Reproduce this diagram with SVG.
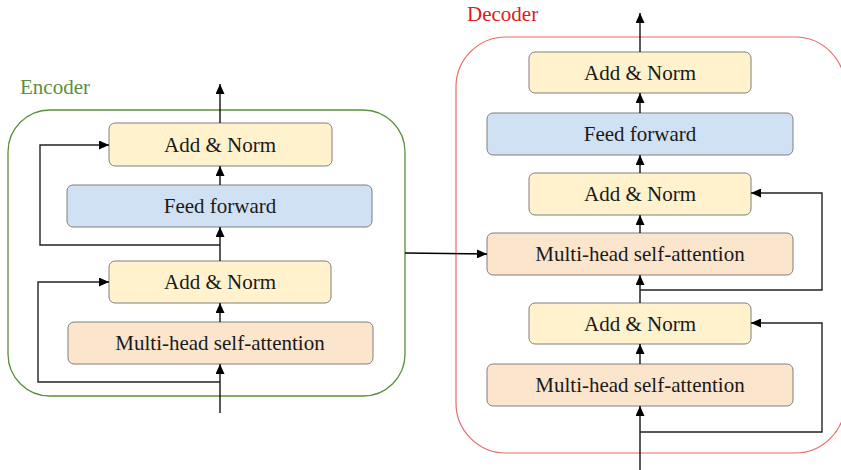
<svg xmlns="http://www.w3.org/2000/svg" width="841" height="470" viewBox="0 0 841 470">
<style>
  .lbl { font-family: "Liberation Serif", "Times New Roman", serif; font-size: 21px; fill: #1a1a1a; text-anchor: middle; }
  .norm { fill: #fff2cc; stroke: #7f7f7f; stroke-width: 1; }
  .ff { fill: #cfe1f3; stroke: #7f7f7f; stroke-width: 1; }
  .mha { fill: #fce5cd; stroke: #7f7f7f; stroke-width: 1; }
  .conn { fill: none; stroke: #000; stroke-width: 1.3; marker-end: url(#arr); }
  .skip { fill: none; stroke: #222; stroke-width: 1.4; marker-end: url(#arr); }
</style>
<defs>
  <marker id="arr" markerUnits="userSpaceOnUse" markerWidth="11" markerHeight="9" refX="10" refY="4.5" orient="auto">
    <path d="M0,0 L10,4.5 L0,9 z" fill="#000"/>
  </marker>
</defs>
<rect width="841" height="470" fill="#fff"/>

<g id="encoder-frame">
  <rect x="8" y="110" width="397" height="286" rx="42" ry="42" fill="none" stroke="#5b8f3a" stroke-width="1.3"/>
  <text x="20" y="94" font-family="Liberation Serif, serif" font-size="21" fill="#5b8f3a">Encoder</text>
</g>
<g id="decoder-frame">
  <rect x="456" y="37" width="389" height="416" rx="50" ry="50" fill="none" stroke="#ea6b66" stroke-width="1.2"/>
  <text x="467" y="21" font-family="Liberation Serif, serif" font-size="21" fill="#d9201b">Decoder</text>
</g>

<g id="enc-addnorm2"><rect class="norm" x="109" y="123" width="223" height="43" rx="6"/><text class="lbl" x="220" y="152">Add &amp; Norm</text></g>
<g id="enc-ff"><rect class="ff" x="67" y="185" width="305" height="42" rx="6"/><text class="lbl" x="220" y="213">Feed forward</text></g>
<g id="enc-addnorm1"><rect class="norm" x="109" y="261" width="222" height="42" rx="6"/><text class="lbl" x="220" y="289">Add &amp; Norm</text></g>
<g id="enc-mha"><rect class="mha" x="68" y="322" width="305" height="42" rx="6"/><text class="lbl" x="220" y="350">Multi-head self-attention</text></g>

<g id="dec-addnorm3"><rect class="norm" x="529" y="52" width="222" height="41" rx="6"/><text class="lbl" x="640" y="80">Add &amp; Norm</text></g>
<g id="dec-ff"><rect class="ff" x="487" y="113" width="306" height="42" rx="6"/><text class="lbl" x="640" y="141">Feed forward</text></g>
<g id="dec-addnorm2"><rect class="norm" x="529" y="173" width="222" height="42" rx="6"/><text class="lbl" x="640" y="201">Add &amp; Norm</text></g>
<g id="dec-mha2"><rect class="mha" x="487" y="233" width="306" height="42" rx="6"/><text class="lbl" x="640" y="261">Multi-head self-attention</text></g>
<g id="dec-addnorm1"><rect class="norm" x="529" y="303" width="222" height="41" rx="6"/><text class="lbl" x="640" y="331">Add &amp; Norm</text></g>
<g id="dec-mha1"><rect class="mha" x="487" y="364" width="306" height="42" rx="6"/><text class="lbl" x="640" y="392">Multi-head self-attention</text></g>

<g id="connectors">
  <path class="conn" d="M220,413 L220,364"/>
  <path class="conn" d="M220,322 L220,303"/>
  <path class="conn" d="M220,261 L220,227"/>
  <path class="conn" d="M220,185 L220,166"/>
  <path class="conn" d="M220,123 L220,84"/>
  <path class="skip" d="M220,382 L38,382 L38,282 L109,282"/>
  <path class="skip" d="M220,245 L40,245 L40,145 L109,145"/>
  <path class="conn" d="M405,253 L487,254"/>

  <path class="conn" d="M640,470 L640,406"/>
  <path class="conn" d="M640,364 L640,344"/>
  <path class="conn" d="M640,303 L640,275"/>
  <path class="conn" d="M640,233 L640,215"/>
  <path class="conn" d="M640,173 L640,155"/>
  <path class="conn" d="M640,113 L640,93"/>
  <path class="conn" d="M640,52 L640,13"/>
  <path class="skip" d="M640,432 L822,432 L822,323 L751,323"/>
  <path class="skip" d="M640,290 L822,290 L822,193 L751,193"/>
</g>
</svg>
